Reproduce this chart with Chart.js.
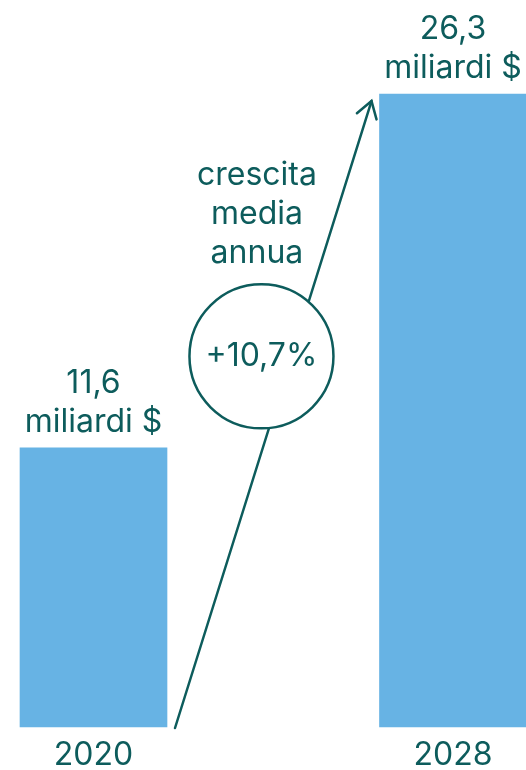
<!DOCTYPE html>
<html>
<head>
<meta charset="utf-8">
<script src="https://cdn.jsdelivr.net/npm/chart.js@4.4.0/dist/chart.umd.min.js"></script>
<style>
    html, body { margin: 0; padding: 0; background: #fff; }
    #wrap { width: 526px; height: 770px; }
</style>
</head>
<body>
<div id="wrap"><canvas id="myChart"></canvas></div>
<script>
const years = ['2020', '2028'];
const values = [11.6, 26.3];
const valueLabels = ['11,6', '26,3'];
const unitLabel = 'miliardi $';
const growthTitle = ['crescita', 'media', 'annua'];
const growthLabel = '+10,7%';

const teal = '#0d5c5c';
const barBlue = '#67b3e4';
const font = 'Inter, "Open Sans", sans-serif';

const annotations = {
    id: 'annotations',
    afterDatasetsDraw(chart) {
        const ctx = chart.ctx;
        const bars = chart.getDatasetMeta(0).data;
        const y = chart.scales.y;

        ctx.save();
        ctx.fillStyle = teal;
        ctx.font = '32px ' + font;
        ctx.textAlign = 'center';
        ctx.textBaseline = 'alphabetic';
        bars.forEach(function (bar, i) {
            ctx.fillText(valueLabels[i], bar.x, bar.y - 55);
            ctx.fillText(unitLabel, bar.x, bar.y - 16);
        });

        // arrow from foot of first bar to head of second
        const b0 = bars[0], b1 = bars[1];
        const sx = b0.x + b0.width / 2 + 8;
        const sy = y.getPixelForValue(0) + 1;
        const ex = b1.x - b1.width / 2 - 8;
        const ey = b1.y + 7;
        ctx.strokeStyle = teal;
        ctx.lineWidth = 2.5;
        ctx.lineCap = 'round';
        ctx.beginPath();
        ctx.moveTo(sx, sy);
        ctx.lineTo(ex, ey);
        ctx.stroke();
        const ang = Math.atan2(sy - ey, sx - ex);
        const len = 19, spread = Math.PI / 5.5;
        ctx.beginPath();
        ctx.moveTo(ex + len * Math.cos(ang + spread), ey + len * Math.sin(ang + spread));
        ctx.lineTo(ex, ey);
        ctx.lineTo(ex + len * Math.cos(ang - spread), ey + len * Math.sin(ang - spread));
        ctx.stroke();

        // growth circle
        const cx = sx + (ex - sx) * 0.44;
        const cy = y.getPixelForValue(15.4);
        const r = 72;
        ctx.beginPath();
        ctx.arc(cx, cy, r, 0, Math.PI * 2);
        ctx.fillStyle = '#fff';
        ctx.fill();
        ctx.stroke();

        ctx.fillStyle = teal;
        ctx.fillText(growthLabel, cx, cy + 10);
        growthTitle.forEach(function (line, i) {
            ctx.fillText(line, cx - 4.5, cy - r - 21 - (growthTitle.length - 1 - i) * 39);
        });
        ctx.restore();
    }
};

new Chart('myChart', {
    type: 'bar',
    data: {
        labels: years,
        datasets: [{
            data: values,
            backgroundColor: barBlue,
            barThickness: 147,
            clip: false
        }]
    },
    options: {
        responsive: true,
        maintainAspectRatio: false,
        animation: false,
        layout: { padding: { top: 5, left: 93.5, right: 73, bottom: 0 } },
        plugins: { legend: { display: false }, tooltip: { enabled: false } },
        scales: {
            x: {
                offset: false,
                grid: { display: false, drawTicks: false },
                border: { display: false },
                ticks: { color: teal, font: { family: font, size: 32, lineHeight: 1 }, padding: 12.5 },
                afterFit: function (scale) { scale.height = 43; }
            },
            y: {
                display: false,
                min: 0,
                max: 30
            }
        }
    },
    plugins: [annotations]
});
</script>
</body>
</html>
